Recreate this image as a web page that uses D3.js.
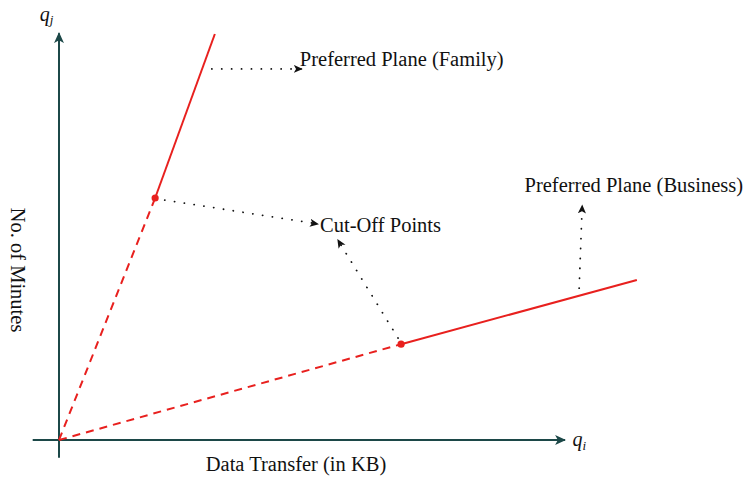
<!DOCTYPE html>
<html>
<head>
<meta charset="utf-8">
<script src="https://cdn.jsdelivr.net/npm/d3@7"></script>
<style>
  body { margin: 0; background: #fff; }
  text { font-family: "Liberation Serif", "DejaVu Serif", serif; fill: #111; }
</style>
</head>
<body>
<div id="chart"></div>
<script>
const width = 751, height = 482;

// line data (origin -> cut-off point -> end)
const familyLine = [[0, 0], [1.9, 5.96], [3.08, 10]];
const businessLine = [[0, 0], [6.76, 2.36], [11.42, 3.94]];
const cutOffs = [familyLine[1], businessLine[1]];

// annotation arrows: [from, to] in data units
const notes = [
  { from: [3.02, 9.14], to: [4.8, 9.14] },
  { from: [2.09, 5.91], to: [5.12, 5.32] },
  { from: [6.7, 2.51], to: [5.51, 4.93] },
  { from: [10.28, 3.74], to: [10.34, 5.78] }
];
const labels = [
  { text: "Preferred Plane (Family)", at: [4.76, 9.21] },
  { text: "Cut-Off Points", at: [5.16, 5.12] },
  { text: "Preferred Plane (Business)", at: [9.2, 6.11] }
];

const x = d3.scaleLinear().domain([0, 10]).range([59, 565]);
const y = d3.scaleLinear().domain([0, 10]).range([440, 34]);

const svg = d3.select("#chart").append("svg")
  .attr("width", width)
  .attr("height", height);

const defs = svg.append("defs");
function marker(id, color, size) {
  defs.append("marker")
    .attr("id", id)
    .attr("viewBox", "0 -5 10 10")
    .attr("refX", 9)
    .attr("refY", 0)
    .attr("markerUnits", "userSpaceOnUse")
    .attr("markerWidth", size)
    .attr("markerHeight", size)
    .attr("orient", "auto")
    .append("path")
    .attr("d", "M0,-4.5L10,0L0,4.5L2.5,0Z")
    .attr("fill", color);
}
marker("axisArrow", "#1c4848", 11);
marker("noteArrow", "#111", 9);

const axisColor = "#1c4848";

// axes
svg.append("line")
  .attr("x1", x(-0.52)).attr("y1", y(0))
  .attr("x2", x(10)).attr("y2", y(0))
  .attr("stroke", axisColor).attr("stroke-width", 2)
  .attr("marker-end", "url(#axisArrow)");

svg.append("line")
  .attr("x1", x(0)).attr("y1", y(-0.44))
  .attr("x2", x(0)).attr("y2", y(10.02))
  .attr("stroke", axisColor).attr("stroke-width", 2)
  .attr("marker-end", "url(#axisArrow)");

// axis names
svg.append("text")
  .attr("x", x(10.15)).attr("y", y(0) + 6)
  .style("font-size", "20px").style("font-style", "italic")
  .html('q<tspan font-size="13px" dy="4">i</tspan>');

svg.append("text")
  .attr("x", x(-0.38)).attr("y", 21)
  .style("font-size", "20px").style("font-style", "italic")
  .html('q<tspan font-size="13px" dy="3">j</tspan>');

svg.append("text")
  .attr("x", 296).attr("y", 471)
  .attr("text-anchor", "middle")
  .style("font-size", "20.5px")
  .text("Data Transfer (in KB)");

svg.append("text")
  .attr("transform", "translate(11,270) rotate(90)")
  .attr("text-anchor", "middle")
  .style("font-size", "20.5px")
  .text("No. of Minutes");

// red lines
const red = "#e8201e";
[familyLine, businessLine].forEach(pts => {
  svg.append("line")
    .attr("x1", x(pts[0][0])).attr("y1", y(pts[0][1]))
    .attr("x2", x(pts[1][0])).attr("y2", y(pts[1][1]))
    .attr("stroke", red).attr("stroke-width", 2)
    .attr("stroke-dasharray", "8 6");
  svg.append("line")
    .attr("x1", x(pts[1][0])).attr("y1", y(pts[1][1]))
    .attr("x2", x(pts[2][0])).attr("y2", y(pts[2][1]))
    .attr("stroke", red).attr("stroke-width", 2);
});

svg.selectAll("circle.cut")
  .data(cutOffs)
  .join("circle")
  .attr("class", "cut")
  .attr("cx", d => x(d[0]))
  .attr("cy", d => y(d[1]))
  .attr("r", 3.6)
  .attr("fill", red);

// dotted annotation arrows
svg.selectAll("line.note")
  .data(notes)
  .join("line")
  .attr("class", "note")
  .attr("x1", d => x(d.from[0])).attr("y1", d => y(d.from[1]))
  .attr("x2", d => x(d.to[0])).attr("y2", d => y(d.to[1]))
  .attr("stroke", "#111")
  .attr("stroke-width", 1.8)
  .attr("stroke-linecap", "round")
  .attr("stroke-dasharray", "0.1 9.8")
  .attr("marker-end", "url(#noteArrow)");

svg.selectAll("text.label")
  .data(labels)
  .join("text")
  .attr("class", "label")
  .attr("x", d => x(d.at[0]))
  .attr("y", d => y(d.at[1]))
  .style("font-size", "20.5px")
  .text(d => d.text);
</script>
</body>
</html>
